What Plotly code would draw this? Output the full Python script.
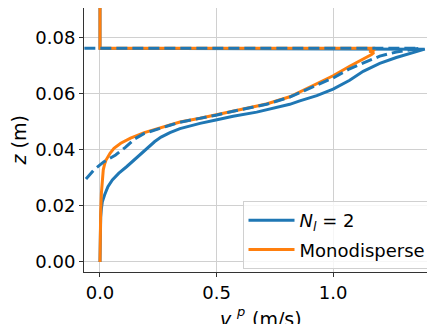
import plotly.graph_objects as go

# N_l = 2 (solid blue)
nl2_x = [0.0, 0.001, 0.003, 0.006, 0.010, 0.020, 0.034, 0.053, 0.081, 0.114, 0.146, 0.172, 0.190,
         0.210, 0.235, 0.262, 0.300, 0.343, 0.390, 0.429, 0.497, 0.571, 0.672, 0.714, 0.814, 0.857,
         0.930, 1.0, 1.071, 1.129, 1.2, 1.271, 1.329, 1.357, 1.38, 1.393, 0.0, 0.0]
nl2_z = [0.0, 0.010, 0.016, 0.0190, 0.0215, 0.0240, 0.0269, 0.0293, 0.0317, 0.0340, 0.0364, 0.0382, 0.0394,
         0.0412, 0.0430, 0.0446, 0.0462, 0.0476, 0.0487, 0.0495, 0.0507, 0.0520, 0.0535, 0.0543, 0.0563, 0.0575,
         0.0594, 0.0617, 0.0649, 0.0681, 0.0709, 0.0730, 0.0744, 0.0751, 0.0757, 0.0760, 0.0763, 0.095]

# Monodisperse (solid orange)
mono_x = [0.0, 0.001, 0.003, 0.006, 0.010, 0.014, 0.020, 0.026, 0.043, 0.060, 0.089, 0.131, 0.190,
          0.240, 0.300, 0.343, 0.429, 0.497, 0.571, 0.672, 0.714, 0.814, 0.857, 0.929, 1.0, 1.071, 1.143,
          1.165, 1.175, 1.155, 1.175, 1.18, 0.0, 0.0]
mono_z = [0.0, 0.010, 0.018, 0.0245, 0.0290, 0.0329, 0.0350, 0.0364, 0.0388, 0.0406, 0.0424, 0.0442, 0.0462,
          0.0474, 0.0489, 0.0500, 0.0513, 0.0525, 0.0539, 0.0555, 0.0564, 0.0590, 0.0607, 0.0637, 0.0665, 0.0699, 0.0729,
          0.0741, 0.0748, 0.0752, 0.0757, 0.0763, 0.0763, 0.095]

# N_l = 2 (dashed blue, no legend entry)
dash_x = [-0.15, -0.069, -0.026, 0.017, 0.067, 0.11, 0.150, 0.190, 0.240, 0.300, 0.343, 0.429, 0.497, 0.571,
          0.672, 0.714, 0.814, 0.857, 0.929, 1.0, 1.071, 1.129, 1.2, 1.271, 1.343, 1.37, -0.2]
dash_z = [0.021, 0.0287, 0.0329, 0.0358, 0.0382, 0.0410, 0.0440, 0.0459, 0.0473, 0.0488, 0.0499, 0.0512, 0.0524, 0.0538,
          0.0554, 0.0563, 0.0589, 0.0605, 0.0632, 0.0657, 0.0690, 0.0709, 0.0735, 0.0750, 0.0758, 0.0763, 0.0763]

x_ticks = [0.0, 0.5, 1.0]
z_ticks = [0.00, 0.02, 0.04, 0.06, 0.08]

BLUE = "#1f77b4"
ORANGE = "#ff7f0e"
FONT = "DejaVu Sans"

fig = go.Figure()
fig.add_trace(go.Scatter(x=nl2_x, y=nl2_z, mode="lines", name="<i>N</i><sub><i>l</i></sub> = 2",
                         legendgroup="a", line=dict(color=BLUE, width=3)))
fig.add_trace(go.Scatter(x=mono_x, y=mono_z, mode="lines", name="Monodisperse",
                         legendgroup="b", line=dict(color=ORANGE, width=3)))
fig.add_trace(go.Scatter(x=dash_x, y=dash_z, mode="lines", showlegend=False, legendgroup="c",
                         line=dict(color=BLUE, width=3, dash="11px,5px")))

# the page body has an 8px default margin; lay out in screen pixels and subtract it
OFF = 8
W, H = 435 - OFF, 324 - OFF
# screen plot area: x 84..435, y 8..272
ml, mr, mt, mb = 84 - OFF, 0, 8 - OFF, H - (272 - OFF)
pw, ph = W - ml - mr, H - mt - mb

def px_x(sx):
    return (sx - OFF - ml) / pw

def px_y(sy):
    return (H - mb - (sy - OFF)) / ph

fig.update_layout(
    width=W, height=H,
    margin=dict(l=ml, r=mr, t=mt, b=mb, autoexpand=False),
    paper_bgcolor="white", plot_bgcolor="white",
    font=dict(family=FONT, size=18, color="black"),
    showlegend=True,
    legend=dict(x=px_x(242.5), y=px_y(201),
                xanchor="left", yanchor="top", traceorder="grouped",
                bgcolor="rgba(255,255,255,0.8)", bordercolor="#d0d0d0", borderwidth=1,
                font=dict(family=FONT, size=18, color="black"),
                tracegroupgap=3, itemwidth=46),
)
fig.update_xaxes(
    range=[-0.0686, 1.437], tickvals=x_ticks, tickformat=".1f", automargin=False,
    showgrid=True, gridcolor="#d0d0d0", gridwidth=1, zeroline=False,
    showline=True, linecolor="#333333", linewidth=1, mirror=True,
    ticks="outside", ticklen=4, tickcolor="#333333",
    tickfont=dict(family=FONT, size=18, color="black"),
)
fig.update_yaxes(
    range=[-0.0036, 0.0907], tickvals=z_ticks, tickformat=".2f", automargin=False,
    showgrid=True, gridcolor="#d0d0d0", gridwidth=1, zeroline=False,
    showline=True, linecolor="#333333", linewidth=1, mirror=False,
    ticks="outside", ticklen=4, tickcolor="#333333",
    tickfont=dict(family=FONT, size=18, color="black"),
)

fig.add_annotation(x=px_x(18.5), y=px_y(141), xref="paper", yref="paper",
                   text="<i>z</i> (m)", textangle=-90, showarrow=False,
                   font=dict(family=FONT, size=19, color="black"),
                   xanchor="center", yanchor="middle")
# x title: v with stacked superscript p and subscript x, then (m/s)
fig.add_annotation(x=px_x(234), y=px_y(319), xref="paper", yref="paper",
                   text="<i>v</i>", showarrow=False,
                   font=dict(family=FONT, size=19, color="black"),
                   xanchor="right", yanchor="middle")
fig.add_annotation(x=px_x(234), y=px_y(311), xref="paper", yref="paper",
                   text="<i>p</i>", showarrow=False,
                   font=dict(family=FONT, size=13, color="black"),
                   xanchor="left", yanchor="middle")
fig.add_annotation(x=px_x(234), y=px_y(326), xref="paper", yref="paper",
                   text="<i>x</i>", showarrow=False,
                   font=dict(family=FONT, size=13, color="black"),
                   xanchor="left", yanchor="middle")
fig.add_annotation(x=px_x(250), y=px_y(319), xref="paper", yref="paper",
                   text="(m/s)", showarrow=False,
                   font=dict(family=FONT, size=19, color="black"),
                   xanchor="left", yanchor="middle")

fig.write_html("out.html")
